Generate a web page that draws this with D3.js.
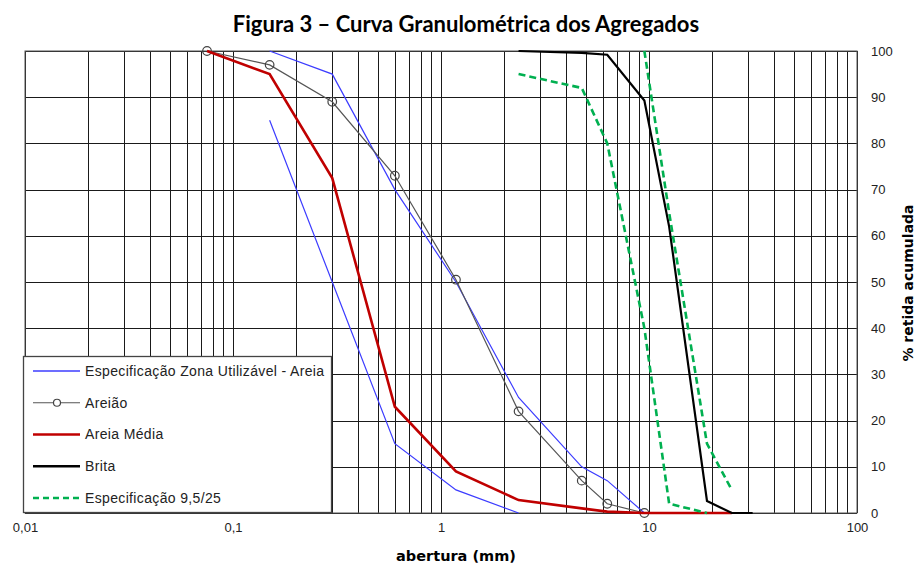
<!DOCTYPE html>
<html>
<head>
<meta charset="utf-8">
<script src="https://cdn.jsdelivr.net/npm/d3@7"></script>
<style>
  html, body { margin: 0; padding: 0; background: #fff; }
  svg { display: block; }
</style>
</head>
<body>
<svg id="chart" width="917" height="564"></svg>
<script>
// ---- data ----
const xTickLabels = ["0,01", "0,1", "1", "10", "100"];
const xTickValues = [0.01, 0.1, 1, 10, 100];
const yTickValues = [0, 10, 20, 30, 40, 50, 60, 70, 80, 90, 100];

const zonaSupX = [0.15, 0.3, 0.6, 1.18, 2.36, 4.75, 6.3, 9.5];
const zonaSupY = [100, 95, 70, 50, 25, 10, 7, 0];
const zonaInfX = [0.15, 0.3, 0.6, 1.18, 2.36];
const zonaInfY = [85, 50, 15, 5, 0];

const areiaoX = [0.075, 0.15, 0.3, 0.6, 1.18, 2.36, 4.75, 6.3, 9.5];
const areiaoY = [100, 97, 89, 73, 50.5, 22, 7, 2, 0];

const areiaMediaX = [0.075, 0.15, 0.3, 0.6, 1.18, 2.36, 4.75, 6.3, 9.5, 12.5, 19, 25];
const areiaMediaY = [100, 95, 72.5, 23, 9, 2.8, 1, 0.3, 0, 0, 0, 0];

const britaX = [2.36, 4.75, 6.3, 9.5, 12.5, 19, 25, 31.5];
const britaY = [100, 99.6, 99.2, 89.3, 62, 2.6, 0, 0];

const spec925InfX = [2.36, 4.75, 6.3, 9.5, 12.5, 19];
const spec925InfY = [95, 92, 80, 40, 2, 0];
const spec925SupX = [9.5, 12.5, 19, 25];
const spec925SupY = [100, 65, 15, 5];

const legendLabels = ["Especificação Zona Utilizável - Areia", "Areião", "Areia Média", "Brita", "Especificação 9,5/25"];

// ---- layout ----
const L = 25, R = 857, T = 51, B = 513;
const svg = d3.select("#chart");
const x = d3.scaleLog().domain([0.01, 100]).range([L, R]);
const y = d3.scaleLinear().domain([0, 100]).range([B, T]);

const zip = (xs, ys) => xs.map((v, i) => [v, ys[i]]);
const line = d3.line().x(d => x(d[0])).y(d => y(d[1]));

// grid
const minorVals = [];
for (let e = -2; e < 2; e++) for (let m = 1; m <= 9; m++) minorVals.push(m * Math.pow(10, e));
minorVals.push(100);
const grid = svg.append("g").attr("stroke", "#1a1a1a").attr("stroke-width", 1).attr("shape-rendering", "crispEdges");
grid.selectAll("line.v").data(minorVals).join("line")
  .attr("x1", d => Math.round(x(d)) + 0.5).attr("x2", d => Math.round(x(d)) + 0.5)
  .attr("y1", T).attr("y2", B);
grid.selectAll("line.h").data(yTickValues).join("line")
  .attr("x1", L).attr("x2", R)
  .attr("y1", d => Math.round(y(d)) + 0.5).attr("y2", d => Math.round(y(d)) + 0.5);
svg.append("rect").attr("x", L).attr("y", T).attr("width", R - L).attr("height", B - T)
  .attr("fill", "none").attr("stroke", "#555").attr("stroke-width", 1);

// axes
const xAxis = d3.axisBottom(x).tickValues(xTickValues).tickFormat((d, i) => xTickLabels[i]).tickSize(0).tickPadding(10);
const gx = svg.append("g").attr("transform", `translate(0,${B})`).call(xAxis);
gx.select(".domain").remove();
gx.selectAll("text").attr("font-family", "Liberation Sans, Arial, sans-serif").attr("font-size", 13).attr("fill", "#222");

const yAxis = d3.axisRight(y).tickValues(yTickValues).tickSize(0).tickPadding(14);
const gy = svg.append("g").attr("transform", `translate(${R},0)`).call(yAxis);
gy.select(".domain").remove();
gy.selectAll("text").attr("font-family", "Liberation Sans, Arial, sans-serif").attr("font-size", 13).attr("fill", "#222");

// series
const plot = svg.append("g").attr("fill", "none");
plot.append("path").attr("d", line(zip(zonaSupX, zonaSupY))).attr("stroke", "#3c3cff").attr("stroke-width", 1.2);
plot.append("path").attr("d", line(zip(zonaInfX, zonaInfY))).attr("stroke", "#3c3cff").attr("stroke-width", 1.2);

plot.append("path").attr("d", line(zip(areiaoX, areiaoY))).attr("stroke", "#555").attr("stroke-width", 1.2);
plot.selectAll("circle.ar").data(zip(areiaoX, areiaoY)).join("circle")
  .attr("cx", d => x(d[0])).attr("cy", d => y(d[1])).attr("r", 4.3)
  .attr("fill", "none").attr("stroke", "#444").attr("stroke-width", 1.2);

plot.append("path").attr("d", line(zip(areiaMediaX, areiaMediaY))).attr("stroke", "#c00000").attr("stroke-width", 2.6);
plot.append("path").attr("d", line(zip(britaX, britaY))).attr("stroke", "#000").attr("stroke-width", 2.2);
plot.append("path").attr("d", line(zip(spec925InfX, spec925InfY))).attr("stroke", "#00b050").attr("stroke-width", 2.6).attr("stroke-dasharray", "7,4");
plot.append("path").attr("d", line(zip(spec925SupX, spec925SupY))).attr("stroke", "#00b050").attr("stroke-width", 2.6).attr("stroke-dasharray", "7,4");

// legend
const lg = svg.append("g");
lg.append("rect").attr("x", 23.5).attr("y", 356.5).attr("width", 308).attr("height", 156)
  .attr("fill", "#fff").attr("stroke", "#444").attr("stroke-width", 1.3);
const legendStyles = [
  {stroke: "#3c3cff", w: 1.5, dash: null, marker: false},
  {stroke: "#555", w: 1.2, dash: null, marker: true},
  {stroke: "#c00000", w: 2.6, dash: null, marker: false},
  {stroke: "#000", w: 2.6, dash: null, marker: false},
  {stroke: "#00b050", w: 2.4, dash: "6,4", marker: false}
];
const ly = d3.scalePoint().domain(d3.range(legendLabels.length)).range([371, 498]);
legendLabels.forEach((lab, i) => {
  const s = legendStyles[i];
  const yy = ly(i);
  lg.append("line").attr("x1", 33).attr("x2", 80).attr("y1", yy).attr("y2", yy)
    .attr("stroke", s.stroke).attr("stroke-width", s.w).attr("stroke-dasharray", s.dash);
  if (s.marker) lg.append("circle").attr("cx", 57).attr("cy", yy).attr("r", 3.5).attr("fill", "#fff").attr("stroke", "#444").attr("stroke-width", 1.2);
  lg.append("text").attr("x", 85).attr("y", yy).attr("dy", "0.35em")
    .attr("font-family", "Liberation Sans, Arial, sans-serif").attr("font-size", 14).attr("letter-spacing", 0.35).attr("fill", "#222").text(lab);
});

// titles
svg.append("text").attr("x", 466).attr("y", 32).attr("text-anchor", "middle")
  .attr("font-family", "Lato, 'Open Sans', sans-serif").attr("font-weight", "bold").attr("font-size", 22).attr("fill", "#000")
  .text("Figura 3 – Curva Granulométrica dos Agregados");
svg.append("text").attr("x", 456).attr("y", 561).attr("text-anchor", "middle")
  .attr("font-family", "'DejaVu Sans', Verdana, sans-serif").attr("font-weight", "bold").attr("font-size", 14.5).attr("fill", "#000")
  .text("abertura (mm)");
svg.append("text").attr("transform", "translate(913,283) rotate(-90)").attr("text-anchor", "middle")
  .attr("font-family", "'DejaVu Sans', Verdana, sans-serif").attr("font-weight", "bold").attr("font-size", 14).attr("fill", "#000")
  .text("% retida acumulada");
</script>
</body>
</html>
